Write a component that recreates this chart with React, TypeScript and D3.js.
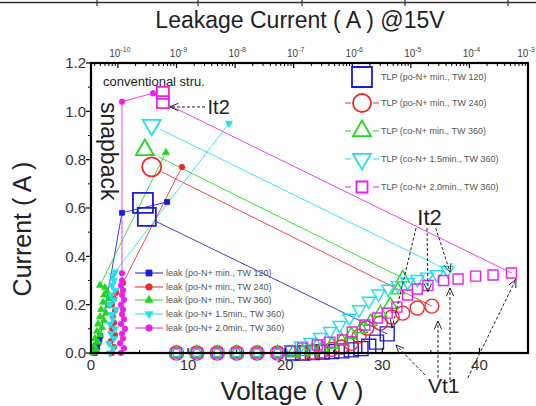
import React from "react";
import * as d3 from "d3";

const FONT = "'Liberation Sans', Arial, Helvetica, sans-serif";
const BLUE = "#1c1cd6";
const RED = "#ee2a2a";
const GREEN = "#1fd81f";
const CYAN = "#1fdff0";
const MAGENTA = "#ec1fec";

// ---- axis ticks ----
const xTickValues = [0, 10, 20, 30, 40];
const xMinorValues = [5, 15, 25, 35];
const yTickValues = [0, 0.2, 0.4, 0.6, 0.8, 1.0, 1.2];
const yMinorValues = [0.1, 0.3, 0.5, 0.7, 0.9, 1.1];
const topExponents = [-10, -9, -8, -7, -6, -5, -4, -3];

// ---- TLP data (Voltage V, Current A) ----
const lowRowV = [8.8, 10.9, 13.0, 15.0, 17.1, 19.2];
const lowRowI = [0, 0, 0, 0, 0, 0];

const blueRiseV = [20.8, 21.8, 22.8, 23.8, 24.8, 25.8, 26.8, 27.8, 28.6, 29.4, 30.5];
const blueRiseI = [0.0, 0.0, 0.002, 0.004, 0.006, 0.009, 0.013, 0.018, 0.028, 0.045, 0.079];
const blueSnapV = [5.35, 5.75];
const blueSnapI = [0.621, 0.563];

const redRiseV = [21.8, 22.8, 23.8, 24.8, 25.8, 26.8, 27.6, 28.4, 29.8, 31.0, 32.1, 33.6, 35.1];
const redRiseI = [0.0, 0.003, 0.008, 0.015, 0.025, 0.04, 0.07, 0.103, 0.124, 0.149, 0.165, 0.186, 0.194];
const redSnapV = [6.25];
const redSnapI = [0.77];

const greenRiseV = [20.8, 21.8, 22.8, 23.8, 24.8, 25.8, 26.8, 27.8, 28.8, 29.8, 30.8, 31.6, 32.1];
const greenRiseI = [0.0, 0.005, 0.012, 0.022, 0.035, 0.052, 0.075, 0.1, 0.13, 0.165, 0.2, 0.26, 0.31];
const greenSnapV = [5.55];
const greenSnapI = [0.84];

const cyanRiseV = [20.6, 21.6, 22.6, 23.6, 24.6, 25.6, 26.6, 27.6, 28.6, 29.6, 30.6, 31.6, 32.6, 33.6, 34.6, 35.6, 36.7];
const cyanRiseI = [0.015, 0.03, 0.045, 0.065, 0.09, 0.115, 0.145, 0.18, 0.215, 0.245, 0.265, 0.28, 0.292, 0.305, 0.315, 0.325, 0.343];
const cyanSnapV = [6.25];
const cyanSnapI = [0.943];

const magentaRiseV = [20.5, 21.8, 23.3, 24.6, 25.9, 26.9, 28.2, 29.5, 30.5, 31.5, 32.6, 33.6, 34.7, 36.3, 37.8, 39.6, 41.4, 43.3];
const magentaRiseI = [0.01, 0.02, 0.033, 0.045, 0.054, 0.087, 0.116, 0.145, 0.165, 0.19, 0.24, 0.265, 0.28, 0.3, 0.306, 0.318, 0.323, 0.331];
const magentaSnapV = [7.4, 7.4];
const magentaSnapI = [1.076, 1.038];

// ---- leakage data (leakage current A @15V, TLP current A) ----
const blueLeakA = [4.0e-11, 4.2e-11, 4.1e-11, 4.4e-11, 4.3e-11, 4.6e-11, 4.8e-11, 5.0e-11, 1.17e-10, 6.9e-10];
const blueLeakI = [0, 0.008, 0.016, 0.024, 0.033, 0.042, 0.055, 0.07, 0.58, 0.625];

const redLeakA = [7.9e-11, 8.6e-11, 7.6e-11, 8.9e-11, 7.9e-11, 8.6e-11, 8.2e-11, 8.9e-11, 7.9e-11, 8.6e-11, 9.3e-11, 1.22e-10, 1.24e-9];
const redLeakI = [0, 0.025, 0.05, 0.075, 0.1, 0.125, 0.15, 0.175, 0.2, 0.225, 0.25, 0.29, 0.77];

const greenLeakA = [3.75e-11, 4.22e-11, 3.9e-11, 4.57e-11, 4.06e-11, 4.94e-11, 4.39e-11, 5.34e-11, 4.57e-11, 5.78e-11, 4.94e-11, 6.25e-11, 5.14e-11, 6.76e-11, 5.56e-11, 7.03e-11, 5.78e-11, 6.5e-11, 6.01e-11, 4.94e-11, 6.6e-10];
const greenLeakI = [0, 0.015, 0.03, 0.045, 0.06, 0.075, 0.09, 0.105, 0.12, 0.135, 0.15, 0.165, 0.18, 0.195, 0.21, 0.225, 0.24, 0.255, 0.27, 0.28, 0.83];

const cyanLeakA = [7.31e-11, 8.24e-11, 7.03e-11, 8.57e-11, 7.61e-11, 8.91e-11, 7.31e-11, 8.24e-11, 7.92e-11, 9.27e-11, 7.31e-11, 8.57e-11, 7.61e-11, 8.91e-11, 7.92e-11, 8.57e-11, 8.24e-11, 8.91e-11, 7.87e-9];
const cyanLeakI = [0, 0.02, 0.04, 0.06, 0.08, 0.1, 0.12, 0.14, 0.16, 0.18, 0.2, 0.22, 0.24, 0.26, 0.28, 0.3, 0.32, 0.335, 0.95];

const magentaLeakA = [1.127e-10, 1.268e-10, 1.084e-10, 1.219e-10, 1.172e-10, 1.318e-10, 1.127e-10, 1.268e-10, 1.172e-10, 1.219e-10, 1.127e-10, 1.268e-10, 1.172e-10, 1.219e-10, 1.127e-10, 1.172e-10, 1.172e-10, 1.172e-10, 3.97e-10];
const magentaLeakI = [0, 0.02, 0.04, 0.06, 0.08, 0.1, 0.12, 0.14, 0.16, 0.18, 0.2, 0.22, 0.24, 0.26, 0.28, 0.3, 0.33, 1.04, 1.075];

const tlpLabels = [
  "TLP (po-N+ min., TW 120)",
  "TLP (po-N+ min., TW 240)",
  "TLP (co-N+ min., TW 360)",
  "TLP (co-N+ 1.5min., TW 360)",
  "TLP (co-N+ 2.0min., TW 360)",
];
const leakLabels = [
  "leak (po-N+ min., TW 120)",
  "leak (po-N+ min., TW 240)",
  "leak (po-N+ min., TW 360)",
  "leak (po-N+ 1.5min., TW 360)",
  "leak (po-N+ 2.0min., TW 360)",
];

// annotations in data units [V, A]
const it2Arrows = [
  { from: [33.47, 0.517], to: [31.0, 0.103] },
  { from: [34.6, 0.517], to: [34.7, 0.253] },
  { from: [35.5, 0.517], to: [36.97, 0.335] },
];
const vt1Arrows = [
  { from: [34.4, -0.091], to: [31.4, 0.033] },
  { from: [35.73, -0.103], to: [35.73, 0.132] },
  { from: [36.97, -0.112], to: [36.97, 0.269] },
  { from: [38.8, -0.103], to: [43.77, 0.306] },
];
const it2LeftArrow = { from: [11.74, 1.018], to: [8.13, 1.018] };

type Shape = "square" | "circle" | "triUp" | "triDown";

function shapePath(shape: Shape, s: number): string {
  const h = s / 2;
  if (shape === "square") return `M${-h},${-h}H${h}V${h}H${-h}Z`;
  if (shape === "circle") return `M${-h},0A${h},${h} 0 1,0 ${h},0A${h},${h} 0 1,0 ${-h},0Z`;
  const t = s * 0.866;
  if (shape === "triUp") return `M0,${(-2 * t) / 3}L${h},${t / 3}L${-h},${t / 3}Z`;
  return `M0,${(2 * t) / 3}L${h},${-t / 3}L${-h},${-t / 3}Z`;
}

function Mk({ shape, cx, cy, s, color, filled, sw = 1.4 }: any) {
  return (
    <path
      d={shapePath(shape, s)}
      transform={`translate(${cx},${cy})`}
      fill={filled ? color : "none"}
      stroke={color}
      strokeWidth={filled ? 0.8 : sw}
    />
  );
}

function Arrow({ x1, y1, x2, y2 }: any) {
  const ang = Math.atan2(y2 - y1, x2 - x1);
  const L = 9;
  const a = 0.42;
  const p1 = [x2 - L * Math.cos(ang - a), y2 - L * Math.sin(ang - a)];
  const p2 = [x2 - L * Math.cos(ang + a), y2 - L * Math.sin(ang + a)];
  return (
    <g stroke="#222" fill="none" strokeWidth={1}>
      <line x1={x1} y1={y1} x2={x2} y2={y2} strokeDasharray="3,2" />
      <path d={`M${p1[0]},${p1[1]}L${x2},${y2}L${p2[0]},${p2[1]}`} />
    </g>
  );
}

export default function App() {
  const L = 91, R = 528, T = 63, B = 353;
  const x = d3.scaleLinear().domain([0, 45]).range([L, R]);
  const y = d3.scaleLinear().domain([0, 1.2]).range([B, T]);
  const xt = d3.scaleLog().domain([Math.pow(10, -10.46), 1e-3]).range([L, R]);

  const topMinor: number[] = [];
  for (let e = -11; e <= -4; e++) {
    for (let k = 2; k <= 9; k++) {
      const v = k * Math.pow(10, e);
      if (v > xt.domain()[0] && v < 1e-3) topMinor.push(v);
    }
  }

  const tlp = [
    { color: BLUE, shape: "square" as Shape, s: 14, snapS: [20, 18], low: false, rV: blueRiseV, rI: blueRiseI, sV: blueSnapV, sI: blueSnapI, gap: 11 },
    { color: RED, shape: "circle" as Shape, s: 14, snapS: [19], low: true, rV: redRiseV, rI: redRiseI, sV: redSnapV, sI: redSnapI, gap: 11 },
    { color: GREEN, shape: "triUp" as Shape, s: 13, snapS: [18], low: true, rV: greenRiseV, rI: greenRiseI, sV: greenSnapV, sI: greenSnapI, gap: 15 },
    { color: CYAN, shape: "triDown" as Shape, s: 13, snapS: [18], low: true, rV: cyanRiseV, rI: cyanRiseI, sV: cyanSnapV, sI: cyanSnapI, gap: 9 },
    { color: MAGENTA, shape: "square" as Shape, s: 10, snapS: [12, 12], low: true, rV: magentaRiseV, rI: magentaRiseI, sV: magentaSnapV, sI: magentaSnapI, gap: 8 },
  ];

  const leak = [
    { color: BLUE, shape: "square" as Shape, s: 5, A: blueLeakA, I: blueLeakI },
    { color: RED, shape: "circle" as Shape, s: 5.5, A: redLeakA, I: redLeakI },
    { color: GREEN, shape: "triUp" as Shape, s: 7, A: greenLeakA, I: greenLeakI },
    { color: CYAN, shape: "triDown" as Shape, s: 7, A: cyanLeakA, I: cyanLeakI },
    { color: MAGENTA, shape: "circle" as Shape, s: 5.5, A: magentaLeakA, I: magentaLeakI },
  ];

  const lineGen = d3.line<[number, number]>().x((d) => d[0]).y((d) => d[1]);

  const legendTlpY = [77, 103, 131, 159, 187];
  const legendTlpS = [20, 18, 18, 18, 11];
  const legendLeakY = [273, 287, 300, 314, 328];

  return (
    <svg width={536} height={406} style={{ position: "absolute", left: 0, top: 0, background: "#fff" }} fontFamily={FONT}>
      <rect x={0} y={0} width={536} height={406} fill="#fff" />
      {/* table border decoration at top */}
      <line x1={0} x2={536} y1={2.5} y2={2.5} stroke="#333" strokeWidth={1.5} />
      {[97, 198, 302, 405, 508].map((px) => (
        <line key={px} x1={px} x2={px} y1={0} y2={6} stroke="#333" strokeWidth={1.2} />
      ))}

      {/* title */}
      <text x={300} y={28} textAnchor="middle" fontSize={23} fill="#222">Leakage Current ( A ) @15V</text>

      {/* top log axis labels */}
      {topExponents.map((e, i) => (
        <text key={e} x={xt(Math.pow(10, e)) + (i === topExponents.length - 1 ? -2 : 2)} y={57} textAnchor="middle" fontSize={10} fill="#444">
          10<tspan fontSize={7} dy={-5}>{e}</tspan>
        </text>
      ))}

      {/* TLP lines: trigger point -> snapback point */}
      {tlp.map((s, k) => {
        const n = s.rV.length - 1;
        const j = s.sV.length - 1;
        const x1 = x(s.rV[n]), y1 = y(s.rI[n]);
        const x2 = x(s.sV[j]), y2 = y(s.sI[j]);
        const d = Math.hypot(x2 - x1, y2 - y1);
        const xe = x2 + ((x1 - x2) / d) * s.gap;
        const ye = y2 + ((y1 - y2) / d) * s.gap;
        return <line key={"tl" + k} x1={x1} y1={y1} x2={xe} y2={ye} stroke={s.color} strokeWidth={1} opacity={0.85} />;
      })}

      {/* leak lines */}
      {leak.map((s, k) => (
        <path
          key={"ll" + k}
          d={lineGen(s.A.map((a, i) => [xt(a), y(s.I[i])] as [number, number])) || ""}
          fill="none"
          stroke={s.color}
          strokeWidth={1}
          opacity={0.85}
        />
      ))}

      {/* TLP markers */}
      {tlp.map((s, k) => (
        <g key={"tm" + k}>
          {s.low && lowRowV.map((v, i) => <Mk key={"lo" + i} shape={s.shape} cx={x(v)} cy={y(lowRowI[i])} s={s.s} color={s.color} />)}
          {s.rV.map((v, i) => <Mk key={"r" + i} shape={s.shape} cx={x(v)} cy={y(s.rI[i])} s={s.s} color={s.color} />)}
          {s.sV.map((v, i) => <Mk key={"s" + i} shape={s.shape} cx={x(v)} cy={y(s.sI[i])} s={s.snapS[i]} color={s.color} sw={1.8} />)}
        </g>
      ))}

      {/* leak markers */}
      {leak.map((s, k) => (
        <g key={"lm" + k}>
          {s.A.map((a, i) => <Mk key={i} shape={s.shape} cx={xt(a)} cy={y(s.I[i])} s={s.s} color={s.color} filled />)}
        </g>
      ))}

      {/* frame */}
      <rect x={L} y={T} width={R - L} height={B - T} fill="none" stroke="#000" strokeWidth={2.2} />

      {/* top ticks (inward) */}
      {topExponents.map((e) => (
        <line key={"tM" + e} x1={xt(Math.pow(10, e))} x2={xt(Math.pow(10, e))} y1={T} y2={T + 5} stroke="#000" strokeWidth={1.2} />
      ))}
      {topMinor.map((v, i) => (
        <line key={"tm" + i} x1={xt(v)} x2={xt(v)} y1={T} y2={T + 3} stroke="#000" strokeWidth={1} />
      ))}

      {/* left ticks (outward) and labels */}
      {yTickValues.map((v) => (
        <g key={"y" + v}>
          <line x1={L - 5} x2={L} y1={y(v)} y2={y(v)} stroke="#000" strokeWidth={1.2} />
          <text x={86} y={y(v)} dy="0.35em" textAnchor="end" fontSize={15} fill="#333">{v.toFixed(1)}</text>
        </g>
      ))}
      {yMinorValues.map((v) => (
        <line key={"ym" + v} x1={L - 3} x2={L} y1={y(v)} y2={y(v)} stroke="#000" strokeWidth={1} />
      ))}

      {/* bottom ticks (inward) and labels */}
      {xTickValues.map((v) => (
        <g key={"x" + v}>
          <line x1={x(v)} x2={x(v)} y1={B} y2={B - 5} stroke="#000" strokeWidth={1.2} />
          <text x={x(v)} y={370} textAnchor="middle" fontSize={15} fill="#333">{v}</text>
        </g>
      ))}
      {xMinorValues.map((v) => (
        <line key={"xm" + v} x1={x(v)} x2={x(v)} y1={B} y2={B - 3} stroke="#000" strokeWidth={1} />
      ))}

      {/* axis titles */}
      <text x={292} y={400} textAnchor="middle" fontSize={26} fill="#222">Voltage ( V )</text>
      <text transform="translate(31,229) rotate(-90)" textAnchor="middle" fontSize={25} fill="#222">Current ( A )</text>

      {/* in-plot texts */}
      <text x={103} y={86} fontSize={13} fill="#222">conventional stru.</text>
      <text transform="translate(101,102) rotate(90)" fontSize={23} fill="#222">snapback</text>
      <text x={x(12.0)} y={y(0.99)} fontSize={20} fill="#222">It2</text>
      <text x={x(33.6)} y={y(0.53)} fontSize={22} fill="#222">It2</text>
      <text x={x(34.7)} y={y(-0.166)} fontSize={21} fill="#222">Vt1</text>

      {/* arrows */}
      <Arrow x1={x(it2LeftArrow.from[0])} y1={y(it2LeftArrow.from[1])} x2={x(it2LeftArrow.to[0])} y2={y(it2LeftArrow.to[1])} />
      {it2Arrows.concat(vt1Arrows).map((a, i) => (
        <Arrow key={"ar" + i} x1={x(a.from[0])} y1={y(a.from[1])} x2={x(a.to[0])} y2={y(a.to[1])} />
      ))}

      {/* TLP legend */}
      {tlp.map((s, k) => (
        <g key={"lg" + k}>
          {k > 0 && (
            <g stroke={s.color} strokeWidth={1}>
              <line x1={345} x2={351} y1={legendTlpY[k]} y2={legendTlpY[k]} />
              <line x1={373} x2={379} y1={legendTlpY[k]} y2={legendTlpY[k]} />
            </g>
          )}
          <Mk shape={s.shape} cx={362} cy={legendTlpY[k]} s={legendTlpS[k]} color={s.color} sw={1.8} />
          <text x={381} y={legendTlpY[k]} dy="0.35em" fontSize={9} fill="#555">{tlpLabels[k]}</text>
        </g>
      ))}

      {/* leak legend */}
      {leak.map((s, k) => (
        <g key={"lk" + k}>
          <line x1={135} x2={163} y1={legendLeakY[k]} y2={legendLeakY[k]} stroke={s.color} strokeWidth={1} />
          <Mk shape={s.shape} cx={149} cy={legendLeakY[k]} s={s.s + 1} color={s.color} filled />
          <text x={166} y={legendLeakY[k]} dy="0.35em" fontSize={9} fill="#555">{leakLabels[k]}</text>
        </g>
      ))}
    </svg>
  );
}
